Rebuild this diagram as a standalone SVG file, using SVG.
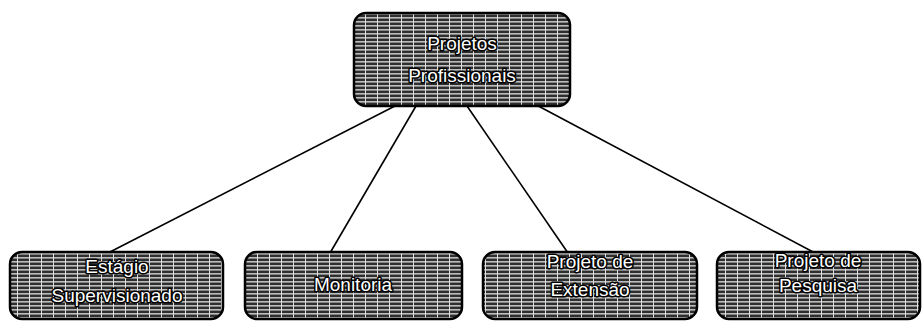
<svg xmlns="http://www.w3.org/2000/svg" width="923" height="324" viewBox="0 0 923 324">
  <defs>
    <pattern id="tex" width="12" height="4" patternUnits="userSpaceOnUse">
      <rect width="12" height="4" fill="#2e2e2e"/>
      <rect y="1" width="12" height="1.6" fill="#bdbdbd"/>
      <rect x="5" y="0" width="1" height="4" fill="#e0e0e0"/>
    </pattern>
  </defs>
  <style>
    .box { fill: url(#tex); stroke: #000; stroke-width: 2.5; }
    .lbl { font-family: "Liberation Sans", Arial, sans-serif; font-size: 19px; fill: #fff; stroke: #000; stroke-width: 3; stroke-linejoin: round; paint-order: stroke; text-anchor: middle; }
    .conn { stroke: #000; stroke-width: 1.6; fill: none; }
  </style>
  <rect width="923" height="324" fill="#fff"/>
  <g id="connectors">
    <line class="conn" x1="395" y1="106" x2="108" y2="253"/>
    <line class="conn" x1="416" y1="106" x2="330" y2="253"/>
    <line class="conn" x1="467" y1="106" x2="568" y2="253"/>
    <line class="conn" x1="527" y1="100" x2="815" y2="253"/>
  </g>
  <g id="node-top">
    <rect class="box" x="354" y="13" width="216" height="93" rx="12"/>
    <text class="lbl" x="462" y="50">Projetos</text>
    <text class="lbl" x="462" y="82">Profissionais</text>
  </g>
  <g id="node-estagio">
    <rect class="box" x="10" y="252" width="213" height="67" rx="12"/>
    <text class="lbl" x="117" y="273">Estágio</text>
    <text class="lbl" x="117" y="302">Supervisionado</text>
  </g>
  <g id="node-monitoria">
    <rect class="box" x="245" y="252" width="217" height="67" rx="12"/>
    <text class="lbl" x="353" y="291">Monitoria</text>
  </g>
  <g id="node-extensao">
    <rect class="box" x="483" y="252" width="214" height="67" rx="12"/>
    <text class="lbl" x="590" y="268">Projeto de</text>
    <text class="lbl" x="590" y="296">Extensão</text>
  </g>
  <g id="node-pesquisa">
    <rect class="box" x="717" y="252" width="203" height="67" rx="12"/>
    <text class="lbl" x="818" y="267">Projeto de</text>
    <text class="lbl" x="818" y="292">Pesquisa</text>
  </g>
</svg>
